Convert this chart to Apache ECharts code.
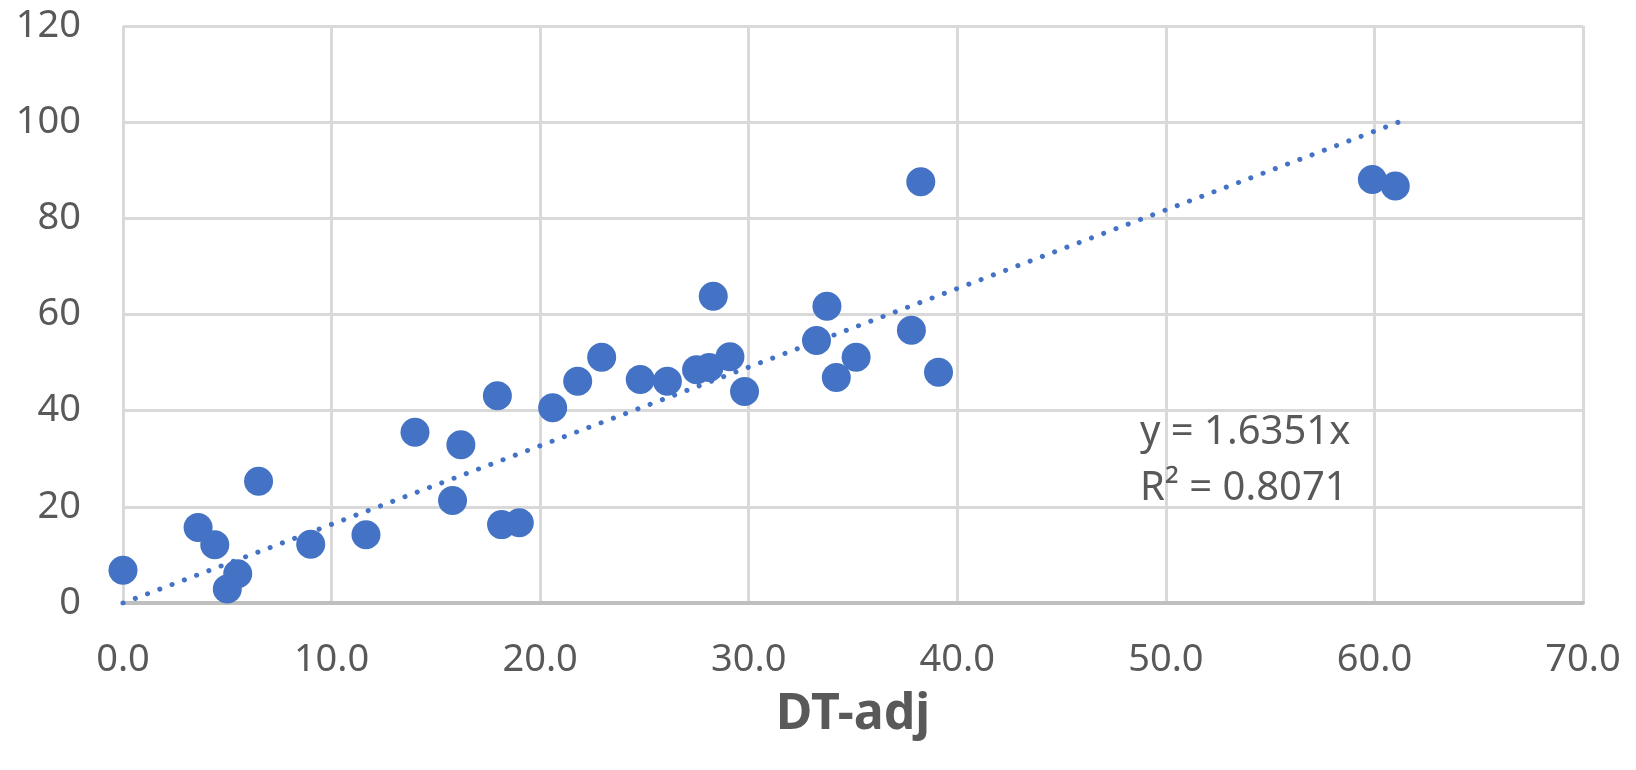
<!DOCTYPE html>
<html>
<head>
<meta charset="utf-8">
<script src="https://cdn.jsdelivr.net/npm/echarts@6/dist/echarts.min.js"></script>
<style>
  html, body { margin: 0; padding: 0; background: #fff; }
  #chart { width: 1636px; height: 770px; }
</style>
</head>
<body>
<div id="chart"></div>
<script>
var dtAdj = [0.0, 3.6, 4.4, 5.0, 5.5, 6.5, 9.0, 11.65, 14.0, 15.8, 16.2, 17.95, 18.15, 19.0,
  20.6, 21.8, 22.95, 24.8, 26.1, 27.5, 28.1, 28.3, 29.1, 29.8, 33.25, 33.75, 34.2, 35.15,
  37.8, 38.25, 39.1, 59.9, 61.0];
var measured = [6.8, 15.7, 12.1, 2.9, 6.1, 25.3, 12.2, 14.2, 35.5, 21.3, 32.9, 43.1, 16.3, 16.7,
  40.6, 46.1, 51.1, 46.5, 46.1, 48.5, 49.0, 63.8, 51.2, 44.0, 54.6, 61.7, 46.9, 51.1,
  56.7, 87.6, 48.0, 88.1, 86.7];

// linear trendline through origin (as printed on the chart)
var slope = 1.6351;
var rSquared = 0.8071;
var trendRange = [0, 61.2];

var xTicks = [0, 10, 20, 30, 40, 50, 60, 70];
var yTicks = [0, 20, 40, 60, 80, 100, 120];

var points = dtAdj.map(function(x, i) { return [x, measured[i]]; });
var trend = trendRange.map(function(x) { return [x, slope * x]; });

var myChart = echarts.init(document.getElementById('chart'));
var font = '"Noto Sans", sans-serif';

var option = {
  animation: false,
  backgroundColor: '#fff',
  grid: { left: 123, right: 53, top: 26, bottom: 167 },
  xAxis: {
    type: 'value',
    min: xTicks[0],
    max: xTicks[xTicks.length - 1],
    interval: 10,
    name: 'DT-adj',
    nameLocation: 'middle',
    nameGap: 87,
    nameTextStyle: { fontFamily: font, fontSize: 50, fontWeight: 'bold', color: '#595959' },
    axisLine: { show: true, lineStyle: { color: '#bfbfbf', width: 4 } },
    axisTick: { show: false },
    axisLabel: {
      fontFamily: font, fontSize: 38, color: '#595959', margin: 38,
      formatter: function(v) { return v.toFixed(1); }
    },
    splitLine: { show: true, lineStyle: { color: '#d9d9d9', width: 3 } }
  },
  yAxis: {
    type: 'value',
    min: yTicks[0],
    max: yTicks[yTicks.length - 1],
    interval: 20,
    axisLine: { show: false },
    axisTick: { show: false },
    axisLabel: { fontFamily: font, fontSize: 38, color: '#595959', margin: 42 },
    splitLine: { show: true, lineStyle: { color: '#d9d9d9', width: 3 } }
  },
  graphic: [{
    type: 'text',
    left: 1140,
    top: 405,
    style: {
      text: 'y = ' + slope.toFixed(4) + 'x\nR\u00b2 = ' + rSquared.toFixed(4),
      fontFamily: font,
      fontSize: 40,
      lineHeight: 56,
      fill: '#595959'
    },
    z: 10
  }],
  series: [
    {
      name: 'data',
      type: 'scatter',
      data: points,
      symbol: 'circle',
      symbolSize: 29,
      itemStyle: { color: '#4472c4', opacity: 1 },
      z: 3
    },
    {
      name: 'trend',
      type: 'line',
      data: trend,
      showSymbol: false,
      symbol: 'none',
      lineStyle: { color: '#4472c4', width: 5, type: [0.1, 13], cap: 'round' },
      z: 2
    }
  ]
};

myChart.setOption(option);
window.addEventListener('resize', function() {
  myChart.resize();
});
</script>
</body>
</html>
